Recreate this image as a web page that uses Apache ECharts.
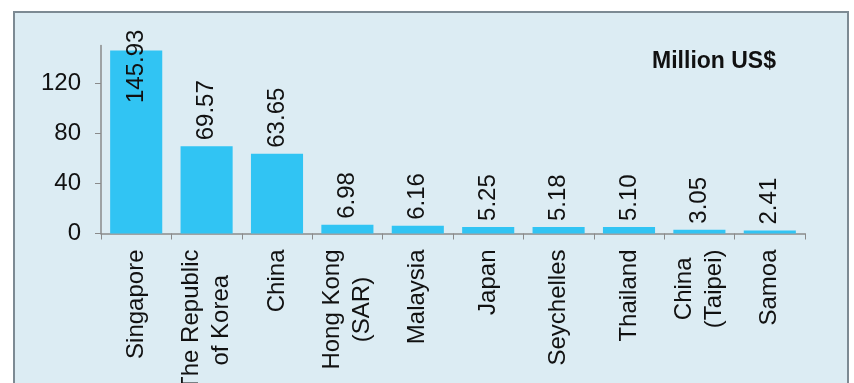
<!DOCTYPE html>
<html>
<head>
<meta charset="utf-8">
<script src="https://cdn.jsdelivr.net/npm/echarts@6/dist/echarts.min.js"></script>
<style>
  html, body { margin: 0; padding: 0; background: #ffffff; }
  #chart { width: 854px; height: 383px; }
</style>
</head>
<body>
<div id="chart"></div>
<script>
// Investment by source economy, million US$
const categories = [
  'Singapore', 'The Republic\nof Korea', 'China', 'Hong Kong\n(SAR)', 'Malaysia',
  'Japan', 'Seychelles', 'Thailand', 'China\n(Taipei)', 'Samoa'
];
const values = [145.93, 69.57, 63.65, 6.98, 6.16, 5.25, 5.18, 5.10, 3.05, 2.41];
const yTicks = [0, 40, 80, 120];
const unitLabel = 'Million US$';

const FONT = '"Liberation Sans", Arial, sans-serif';
const TEXT = '#111111';
const AXIS = '#8a8a8a';
const FS = 24;

const chart = echarts.init(document.getElementById('chart'), null, { renderer: 'canvas' });

// the tallest bar keeps its value label inside the plotting area
const barData = values.map((v, i) => {
  if (i === 0) {
    return {
      value: v,
      label: { position: ['50%', -21], align: 'right', verticalAlign: 'middle' }
    };
  }
  return v;
});

chart.setOption({
  backgroundColor: '#ffffff',
  animation: false,
  graphic: [
    {
      type: 'rect',
      z: -10,
      silent: true,
      shape: { x: 14, y: 12, width: 834, height: 380 },
      style: { fill: '#dcecf3', stroke: '#7d8a93', lineWidth: 2 }
    },
    {
      type: 'text',
      silent: true,
      style: {
        x: 776, y: 62,
        text: unitLabel,
        font: 'bold 23px ' + FONT,
        fill: TEXT,
        align: 'right',
        verticalAlign: 'middle'
      }
    }
  ],
  grid: {
    left: 101, right: 49, top: 45.5, bottom: 149.5,
    containLabel: false,
    outerBoundsMode: 'none'
  },
  xAxis: {
    type: 'category',
    data: categories,
    axisLine: { lineStyle: { color: AXIS, width: 1.5 } },
    axisTick: { show: true, length: 6, lineStyle: { color: AXIS } },
    axisLabel: {
      interval: 0,
      rotate: 90,
      margin: 16,
      color: TEXT,
      fontFamily: FONT,
      fontSize: FS,
      lineHeight: 30,
      align: 'right',
      formatter: (v) => v.split('\n').map(s => '{c|' + s + '}').join('\n'),
      rich: { c: { align: 'center', fontFamily: FONT, fontSize: FS, color: TEXT, lineHeight: 30 } }
    }
  },
  yAxis: {
    type: 'value',
    min: 0,
    max: 150,
    interval: 40,
    splitLine: { show: false },
    axisLine: { show: true, lineStyle: { color: AXIS, width: 1.5 } },
    axisTick: { show: true, length: 6, customValues: yTicks, lineStyle: { color: AXIS } },
    axisLabel: {
      customValues: yTicks,
      margin: 20,
      color: TEXT,
      fontFamily: FONT,
      fontSize: FS
    }
  },
  series: [{
    type: 'bar',
    data: barData,
    barCategoryGap: '26%',
    itemStyle: { color: '#31c4f3' },
    label: {
      show: true,
      position: 'top',
      distance: 6,
      rotate: 90,
      align: 'left',
      verticalAlign: 'middle',
      color: TEXT,
      fontFamily: FONT,
      fontSize: FS,
      formatter: (p) => Number(p.value).toFixed(2)
    }
  }]
});
</script>
</body>
</html>
